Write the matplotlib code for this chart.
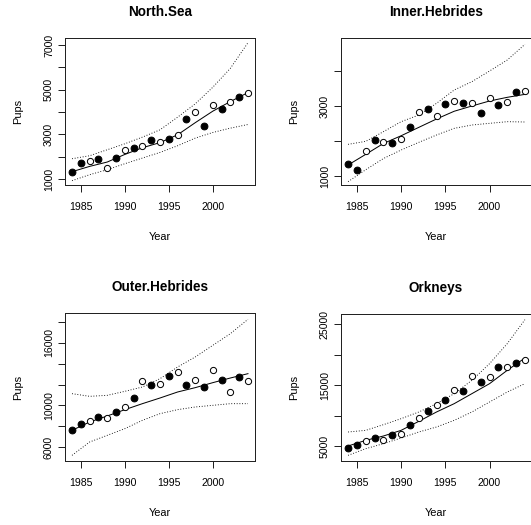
import matplotlib
matplotlib.use("Agg")
import matplotlib.pyplot as plt

plt.rcParams['font.family'] = ['Liberation Sans', 'DejaVu Sans']

W, H = 531, 525

years = [1984, 1985, 1986, 1987, 1988, 1989, 1990, 1991, 1992, 1993, 1994,
         1995, 1996, 1997, 1998, 1999, 2000, 2001, 2002, 2003, 2004]
# years drawn with filled dots, the rest are open circles
filled_years = [1984, 1985, 1987, 1989, 1991, 1993, 1995, 1997, 1999, 2001, 2003]
fit_years = [1984, 1986, 1988, 1990, 1992, 1994, 1996, 1998, 2000, 2002, 2004]

north_sea = [1327, 1729, 1818, 1878, 1476, 1923, 2280, 2369, 2458, 2726, 2667,
             2771, 2979, 3708, 4006, 3381, 4333, 4155, 4438, 4676, 4854]
north_sea_fit = [1327, 1565, 1760, 2100, 2400, 2630, 2979, 3520, 4036, 4467, 4869]
north_sea_hi = [1908, 2042, 2310, 2577, 2875, 3202, 3768, 4363, 5107, 5955, 7101]
north_sea_lo = [926, 1193, 1417, 1685, 1938, 2190, 2488, 2830, 3083, 3277, 3440]

inner = [1333, 1181, 1724, 2019, 1981, 1952, 2048, 2410, 2829, 2924, 2724,
         3048, 3143, 3095, 3095, 2800, 3238, 3029, 3124, 3410, 3419]
inner_fit = [1314, 1619, 1930, 2150, 2390, 2629, 2850, 3000, 3143, 3248, 3333]
inner_hi = [1905, 1990, 2267, 2552, 2743, 3076, 3457, 3695, 4000, 4314, 4762]
inner_lo = [838, 1180, 1500, 1743, 1962, 2171, 2362, 2457, 2505, 2552, 2543]

outer = [7664, 8208, 8528, 8848, 8816, 9328, 9872, 10672, 12304, 11920, 12048,
         12784, 13200, 11952, 12464, 11760, 13392, 12432, 11312, 12752, 12368]
outer_fit = [7600, 8400, 8976, 9584, 10160, 10704, 11280, 11696, 12176, 12624, 13040]
outer_hi = [11120, 10864, 10960, 11344, 11760, 12560, 13680, 14640, 15760, 16880, 18256]
outer_lo = [5200, 6480, 7120, 7760, 8560, 9200, 9584, 9840, 10000, 10160, 10160]

orkneys = [4781, 5273, 5820, 6421, 5984, 6803, 7022, 8443, 9699, 10847, 11721,
           12541, 14289, 14016, 16475, 15491, 16365, 18004, 18004, 18715, 19206]
orkneys_fit = [5055, 5984, 6694, 7623, 9098, 10628, 11994, 13633, 15273, 17458, 19480]
orkneys_hi = [7350, 7623, 8552, 9535, 10628, 11994, 13633, 15819, 18551, 21829, 25763]
orkneys_lo = [3525, 4617, 5437, 6366, 7350, 8169, 9262, 10628, 12267, 13906, 15273]

panels = [
    ("North.Sea", north_sea, north_sea_fit, north_sea_hi, north_sea_lo,
     (732, 7312), [1000, 2000, 3000, 4000, 5000, 6000, 7000],
     ["1000", "", "3000", "", "5000", "", "7000"]),
    ("Inner.Hebrides", inner, inner_fit, inner_hi, inner_lo,
     (743, 4943), [1000, 2000, 3000, 4000],
     ["1000", "", "3000", ""]),
    ("Outer.Hebrides", outer, outer_fit, outer_hi, outer_lo,
     (4656, 18864), [6000, 8000, 10000, 12000, 14000, 16000, 18000],
     ["6000", "", "10000", "", "", "16000", ""]),
    ("Orkneys", orkneys, orkneys_fit, orkneys_hi, orkneys_lo,
     (2596, 26692), [5000, 10000, 15000, 20000, 25000],
     ["5000", "", "15000", "", "25000"]),
]

# box corners in pixels (left, top, right, bottom); right panels run off the edge
boxes = [(65, 38, 255, 185), (341, 38, 532, 185),
         (65, 313, 255, 461), (341, 314, 532, 461)]

fig = plt.figure(figsize=(W / 72, H / 72), dpi=72)

for (name, pts, fit, hi, lo, ylim, yt, ytl), (l, t, r, b) in zip(panels, boxes):
    ax = fig.add_axes([l / W, 1 - b / H, (r - l) / W, (b - t) / H])
    for s in ax.spines.values():
        s.set_linewidth(1)
        s.set_color('#222222')

    fy = [y for y in years if y in filled_years]
    fv = [v for y, v in zip(years, pts) if y in filled_years]
    oy = [y for y in years if y not in filled_years]
    ov = [v for y, v in zip(years, pts) if y not in filled_years]
    ax.plot(fy, fv, 'o', color='black', markersize=6.8, zorder=3)
    ax.plot(oy, ov, 'o', mfc='white', mec='black', mew=1, markersize=6.2, zorder=3)

    ax.plot(fit_years, fit, '-', color='black', lw=1)
    ax.plot(fit_years, hi, color='black', lw=0.9, linestyle=(0, (1, 2)))
    ax.plot(fit_years, lo, color='black', lw=0.9, linestyle=(0, (1, 2)))

    ax.set_xlim(1983.2, 2004.8)
    ax.set_ylim(*ylim)
    ax.set_xticks([1985, 1990, 1995, 2000])
    ax.set_yticks(yt)
    ax.set_yticklabels(ytl, rotation=90, va='center')
    ax.tick_params(direction='out', length=7, width=1, labelsize=10.5,
                   color='#222222')
    ax.tick_params(axis='x', pad=10)
    ax.tick_params(axis='y', pad=4)

    cx = (l + min(r, W)) / 2
    fig.text(cx / W, 1 - (t - 26) / H, name, ha='center', va='center',
             fontsize=13.5, fontweight='bold')
    fig.text(cx / W, 1 - (b + 52) / H, "Year", ha='center', va='center',
             fontsize=11)
    fig.text((l - 47) / W, 1 - ((t + b) / 2) / H, "Pups", ha='center',
             va='center', rotation=90, fontsize=11)

fig.savefig("out.png", dpi=72)
